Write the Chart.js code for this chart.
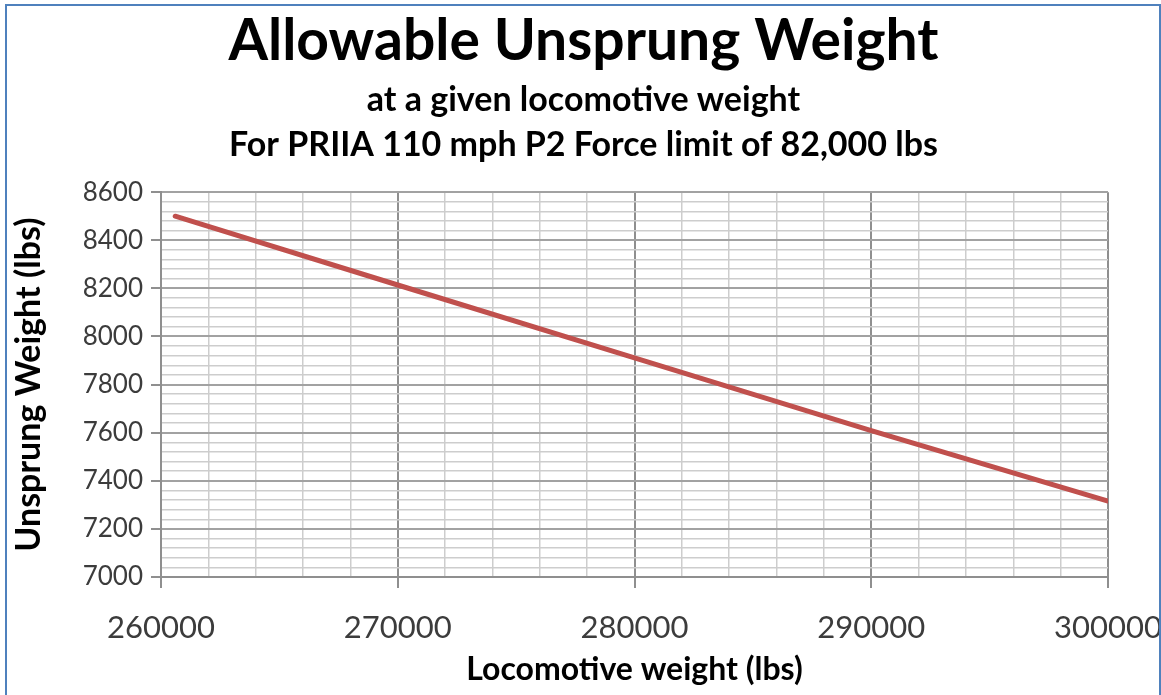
<!DOCTYPE html>
<html>
<head>
<meta charset="utf-8">
<title>Allowable Unsprung Weight</title>
<script src="https://cdn.jsdelivr.net/npm/chart.js@4/dist/chart.umd.min.js"></script>
<style>
  html, body { margin: 0; padding: 0; background: #ffffff; }
  #wrap { position: relative; width: 1161px; height: 695px; overflow: hidden; }
  #chart { position: absolute; left: 0; top: 0; }
  #frame {
    position: absolute; left: 5px; top: 4px; width: 1152px; height: 720px;
    border: 2px solid #4f81bd; pointer-events: none;
  }
</style>
</head>
<body>
<div id="wrap">
  <canvas id="chart" width="1161" height="695"></canvas>
  <div id="frame"></div>
</div>
<script>
// Locomotive weight (lbs) and the matching allowable unsprung weight (lbs)
const locoWeight = [260600, 270000, 280000, 290000, 300000];
const unsprungWeight = [8500, 8214, 7911, 7609, 7316];

// Axis ranges and grid steps
const xRange = [260000, 300000];
const xMinorStep = 2000;
const xMajorStep = 10000;
const yRange = [7000, 8600];
const yMinorStep = 40;
const yMajorStep = 200;

const titleText = 'Allowable Unsprung Weight';
const subtitleLines = ['at a given locomotive weight', 'For PRIIA 110 mph P2 Force limit of 82,000 lbs'];
const xTitle = 'Locomotive weight (lbs)';
const yTitle = 'Unsprung Weight (lbs)';

const FONT = 'Lato, "Open Sans", sans-serif';
const MAJOR_GRID = '#8f8f8f';
const MINOR_GRID = '#cdcdcd';

const isMajor = (v, step) => Math.abs(v / step - Math.round(v / step)) < 1e-6;

const points = locoWeight.map((x, i) => ({ x, y: unsprungWeight[i] }));

new Chart(document.getElementById('chart'), {
  type: 'line',
  data: {
    datasets: [{
      data: points,
      borderColor: '#c0504d',
      borderWidth: 5,
      borderCapStyle: 'round',
      borderJoinStyle: 'round',
      pointRadius: 0,
      tension: 0,
      fill: false
    }]
  },
  options: {
    responsive: false,
    animation: false,
    devicePixelRatio: 1,
    layout: { padding: { left: 6, right: 0, top: 6, bottom: 0 } },
    plugins: {
      legend: { display: false },
      tooltip: { enabled: false },
      title: {
        display: true,
        text: titleText,
        color: '#000000',
        font: { family: FONT, size: 57, weight: 'bold', lineHeight: 1.2 },
        padding: { top: 1, bottom: 0 }
      },
      subtitle: {
        display: true,
        text: subtitleLines,
        color: '#000000',
        font: { family: FONT, size: 34, weight: 'bold', lineHeight: 1.32 },
        padding: { top: 2, bottom: 25 }
      }
    },
    scales: {
      x: {
        type: 'linear',
        min: xRange[0],
        max: xRange[1],
        afterFit: (s) => { s.height = 118; s.paddingLeft = 0; s.paddingRight = 53; },
        border: { display: true, color: MAJOR_GRID, width: 2 },
        grid: {
          color: (c) => isMajor(c.tick.value, xMajorStep) ? MAJOR_GRID : MINOR_GRID,
          lineWidth: (c) => isMajor(c.tick.value, xMajorStep) ? 2 : 1.5,
          tickColor: (c) => isMajor(c.tick.value, xMajorStep) ? MAJOR_GRID : 'rgba(0,0,0,0)',
          tickLength: 11,
          drawTicks: true
        },
        ticks: {
          stepSize: xMinorStep,
          autoSkip: false,
          maxRotation: 0,
          padding: 21,
          color: '#3c3c3c',
          font: { family: FONT, size: 31 },
          callback: (v) => isMajor(v, xMajorStep) ? String(v) : ''
        },
        title: {
          display: true,
          text: xTitle,
          color: '#000000',
          font: { family: FONT, size: 32, weight: 'bold', lineHeight: 1.2 },
          padding: { top: 0, bottom: 6 }
        }
      },
      y: {
        type: 'linear',
        min: yRange[0],
        max: yRange[1],
        afterFit: (s) => { s.width = 155; },
        border: { display: true, color: MAJOR_GRID, width: 2 },
        grid: {
          color: (c) => isMajor(c.tick.value, yMajorStep) ? '#a2a2a2' : MINOR_GRID,
          lineWidth: (c) => isMajor(c.tick.value, yMajorStep) ? 2 : 1.5,
          tickColor: (c) => isMajor(c.tick.value, yMajorStep) ? MAJOR_GRID : 'rgba(0,0,0,0)',
          tickLength: 10,
          drawTicks: true
        },
        ticks: {
          stepSize: yMinorStep,
          autoSkip: false,
          padding: 8,
          color: '#3c3c3c',
          font: { family: FONT, size: 26 },
          callback: (v) => isMajor(v, yMajorStep) ? String(v) : ''
        },
        title: {
          display: true,
          text: yTitle,
          color: '#000000',
          font: { family: FONT, size: 34, weight: 'bold', lineHeight: 1.2 },
          padding: { top: 3, bottom: 0 }
        }
      }
    }
  }
});
</script>
</body>
</html>
